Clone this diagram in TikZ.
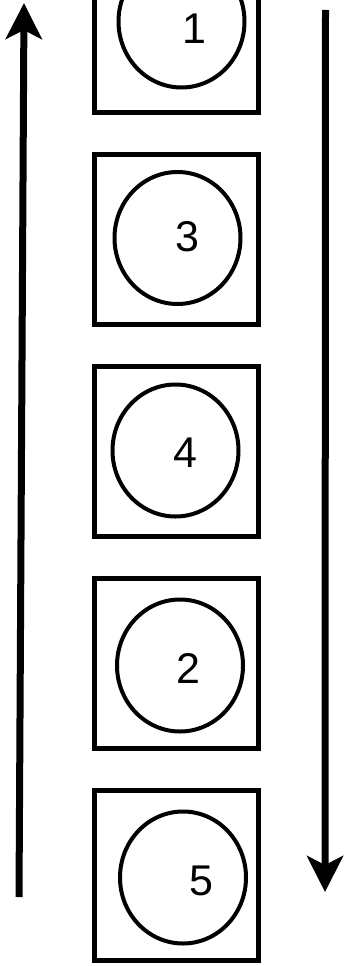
\documentclass[tikz,border=0pt]{standalone}
\usepackage{fontspec}
\setmainfont{Liberation Sans}
\usepackage{tikz}
\usetikzlibrary{arrows.meta,shapes.geometric}

\begin{document}
\begin{tikzpicture}[x=1pt,y=1pt,node distance=212pt]
\tikzstyle{slot} = [rectangle, draw, line width=5pt, minimum width=164pt, minimum height=170pt, inner sep=0pt]
\tikzstyle{disc} = [ellipse, draw, line width=4pt, minimum width=126pt, minimum height=132pt, inner sep=0pt]
\tikzstyle{num} = [font=\fontsize{43}{50}\selectfont, inner sep=0pt]
\tikzstyle{arrow} = [line width=7pt,-{Stealth[length=36pt,width=36pt,inset=9pt]}]

\useasboundingbox (0,0) rectangle (344,-966);

\node (box1) [slot] at (176,-27) {};
\node (box3) [slot, below of=box1] {};
\node (box4) [slot, below of=box3] {};
\node (box2) [slot, below of=box4] {};
\node (box5) [slot, below of=box2] {};

\node (disc1) [disc] at (181.5,-21.5) {};
\node (disc3) [disc] at (177.5,-238) {};
\node (disc4) [disc] at (175.5,-450.5) {};
\node (disc2) [disc] at (180,-665.5) {};
\node (disc5) [disc] at (183,-877.5) {};

\node (num1) [num] at (194.5,-29) {1};
\node (num3) [num] at (187.5,-237) {3};
\node (num4) [num] at (185,-453) {4};
\node (num2) [num] at (188.5,-668) {2};
\node (num5) [num] at (201.5,-881) {5};

\coordinate (upfrom) at (19,-897);
\coordinate (upto) at (24,-3);
\coordinate (downfrom) at (325.5,-10);
\coordinate (downto) at (325,-892);

\draw [arrow] (upfrom) -- (upto);
\draw [arrow] (downfrom) -- (downto);

\end{tikzpicture}
\end{document}
